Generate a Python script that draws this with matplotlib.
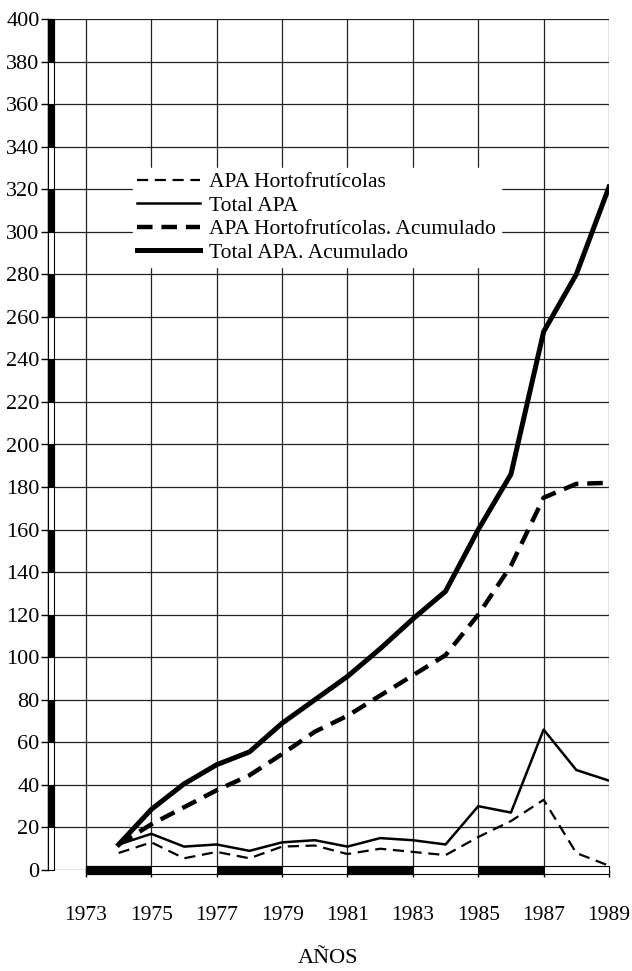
import matplotlib
matplotlib.use("Agg")
import matplotlib.pyplot as plt
import matplotlib.transforms as mtransforms
from matplotlib.patches import Rectangle

plt.rcParams['font.family'] = ['Liberation Serif', 'DejaVu Serif']

# datos
anos = [1974, 1975, 1976, 1977, 1978, 1979, 1980, 1981,
        1982, 1983, 1984, 1985, 1986, 1987, 1988, 1989]
apa_horto = [8, 13, 5.5, 8.5, 5.5, 11, 11.5, 7.5, 10, 8.5, 7, 15.5, 23, 33, 8, 2]
apa_total = [12, 17, 11, 12, 9, 13, 14, 11, 15, 14, 12, 30, 27, 66, 47, 42]
horto_acum = [12, 21.5, 29.5, 37.5, 44.5, 54.5, 65, 72.5, 82, 91.5, 101, 120, 143, 175, 181.5, 182]
total_acum = [12, 28.5, 40.5, 49.5, 55.5, 69, 80, 91, 104, 118, 131, 160, 186, 253, 280, 321]

etiquetas = ["APA Hortofrutícolas", "Total APA",
             "APA Hortofrutícolas. Acumulado", "Total APA. Acumulado"]
ticks_x = [1973, 1975, 1977, 1979, 1981, 1983, 1985, 1987, 1989]
ticks_y = list(range(0, 401, 20))

W, H = 632, 971
IZQ, DER, ARR, ABA = 48, 609, 19, 870
fig = plt.figure(figsize=(W / 100, H / 100), dpi=100)
ax = fig.add_axes([IZQ / W, 1 - ABA / H, (DER - IZQ) / W, (ABA - ARR) / H])

px_ano = (DER - 86) / 16
ax.set_xlim(1973 - (86 - IZQ) / px_ano, 1989)
ax.set_ylim(0, 400)

# rejilla
for x in ticks_x:
    ax.axvline(x, color="#222222", lw=0.9, zorder=1)
for y in ticks_y:
    ax.axhline(y, color="#222222", lw=0.9, zorder=1)

ax.plot(anos, apa_horto, color="k", lw=1.6, dashes=(5, 3), label=etiquetas[0], zorder=3)
ax.plot(anos, apa_total, color="k", lw=1.8, label=etiquetas[1], zorder=3)
ax.plot(anos, horto_acum, color="k", lw=3.2, dashes=(3.5, 2), label=etiquetas[2], zorder=3)
ax.plot(anos, total_acum, color="k", lw=3.6, label=etiquetas[3], zorder=3)

# barra alternada del eje y
bar_w = 6 / (DER - IZQ)
trans_y = mtransforms.blended_transform_factory(ax.transAxes, ax.transData)
ax.add_patch(Rectangle((0, 0), bar_w, 400, transform=trans_y, facecolor="white",
                       edgecolor="k", lw=0.8, zorder=4, clip_on=False))
for lo in range(20, 400, 40):
    ax.add_patch(Rectangle((0, lo), bar_w, 20, transform=trans_y, facecolor="k",
                           edgecolor="k", lw=0.8, zorder=5, clip_on=False))

# barra alternada del eje x
alto = 4 / (ABA - ARR) * 400
ax.add_patch(Rectangle((1973, -alto), 16, 2 * alto, facecolor="white",
                       edgecolor="k", lw=0.8, zorder=4, clip_on=False))
for x0 in range(1973, 1989, 4):
    ax.add_patch(Rectangle((x0, -alto), 2, 2 * alto, facecolor="k",
                           edgecolor="k", lw=0.8, zorder=5, clip_on=False))

ax.set_xticks(ticks_x)
ax.set_yticks(ticks_y)
ax.tick_params(axis="y", direction="out", length=5, width=1, pad=1, labelsize=16)
ax.tick_params(axis="x", direction="out", length=5, width=1, pad=21, labelsize=15.5)
for s in ["top", "right", "bottom"]:
    ax.spines[s].set_visible(False)
ax.spines["left"].set_linewidth(1)

ax.set_xlabel("AÑOS", fontsize=16, labelpad=17)

leg = ax.legend(loc="upper left", bbox_to_anchor=(133 / W, 1 - 168 / H),
                bbox_transform=fig.transFigure, fontsize=15.5, frameon=True,
                fancybox=False, handlelength=2.9, handletextpad=0.45,
                labelspacing=0.16, borderpad=0.2, borderaxespad=0)
leg.get_frame().set_facecolor("white")
leg.get_frame().set_edgecolor("white")
leg.get_frame().set_alpha(1)
leg.set_zorder(6)

fig.savefig("out.png", dpi=100)
